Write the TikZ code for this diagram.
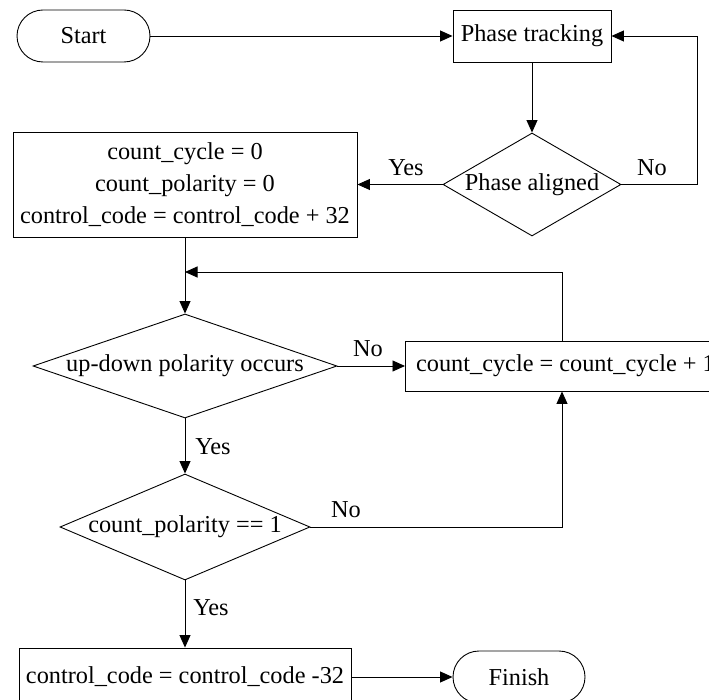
\documentclass[tikz,border=0pt]{standalone}
\usepackage{fontspec}
\setmainfont{Liberation Serif}
\usetikzlibrary{shapes.geometric,arrows.meta}
\begin{document}
\begin{tikzpicture}[x=1pt,y=-1pt,
  font=\fontsize{24.3}{32}\selectfont,
  line width=0.9pt,
  every node/.style={inner sep=0pt},
  procbox/.style={draw, rectangle, align=center},
  termbox/.style={draw, rectangle, rounded corners=26pt},
  decbox/.style={draw, diamond},
  arr/.style={-{Triangle[length=12.5pt,width=11pt]}},
  lbl/.style={inner sep=0pt}
]
\useasboundingbox (0,0) rectangle (709,700);
\begin{scope}
\clip (0,0) rectangle (709,700);

% terminals and process boxes
\node[termbox, minimum width=133, minimum height=52] (start) at (83.5,36) {Start};
\node[procbox, minimum width=158, minimum height=52] (pt) at (532,36) {Phase tracking};
\node[decbox, minimum width=178, minimum height=103,
      label=center:{Phase aligned}] (d1) at (532,184.5) {};
\node[procbox, minimum width=344, minimum height=105] (init) at (185,184.5)
  {count\_cycle = 0\\count\_polarity = 0\\control\_code = control\_code + 32};
\node[decbox, minimum width=304, minimum height=104,
      label=center:{up-down polarity occurs}] (d2) at (185,366) {};
\node[procbox, minimum width=314, minimum height=50, anchor=west] (cc) at (405,366)
  {\hspace*{6pt}count\_cycle = count\_cycle + 1\hfill};
\node[decbox, minimum width=250, minimum height=106,
      label=center:{count\_polarity == 1}] (d3) at (185,527) {};
\node[procbox, minimum width=332, minimum height=58] (dec) at (185,677)
  {control\_code = control\_code -32};
\node[termbox, minimum width=132, minimum height=52] (fin) at (519,677) {Finish};

% junction points
\coordinate (r) at (697,184.5);
\coordinate (j) at (185,272);

% connectors
\draw[arr] (start.east) -- (pt.west);
\draw[arr] (pt.south) -- (d1.north);
\draw[arr] (d1.west) -- (init.east);
\draw[arr] (d1.east) -- (r) |- (pt.east);
\draw[arr] (init.south) -- (d2.north);
\draw[arr] (cc.north -| 562,0) |- (j);
\draw[arr] (d2.east) -- (cc.west);
\draw[arr] (d2.south) -- (d3.north);
\draw[arr] (d3.east) -| (cc.south -| 562,0);
\draw[arr] (d3.south) -- (dec.north);
\draw[arr] (dec.east) -- (fin.west);

% branch labels
\node[lbl] (y1) at (406,168) {Yes};
\node[lbl] (n1) at (652,168) {No};
\node[lbl] (n2) at (368,349) {No};
\node[lbl] (y2) at (213,447) {Yes};
\node[lbl] (n3) at (346,510) {No};
\node[lbl] (y3) at (211,608) {Yes};
\end{scope}
\end{tikzpicture}
\end{document}
